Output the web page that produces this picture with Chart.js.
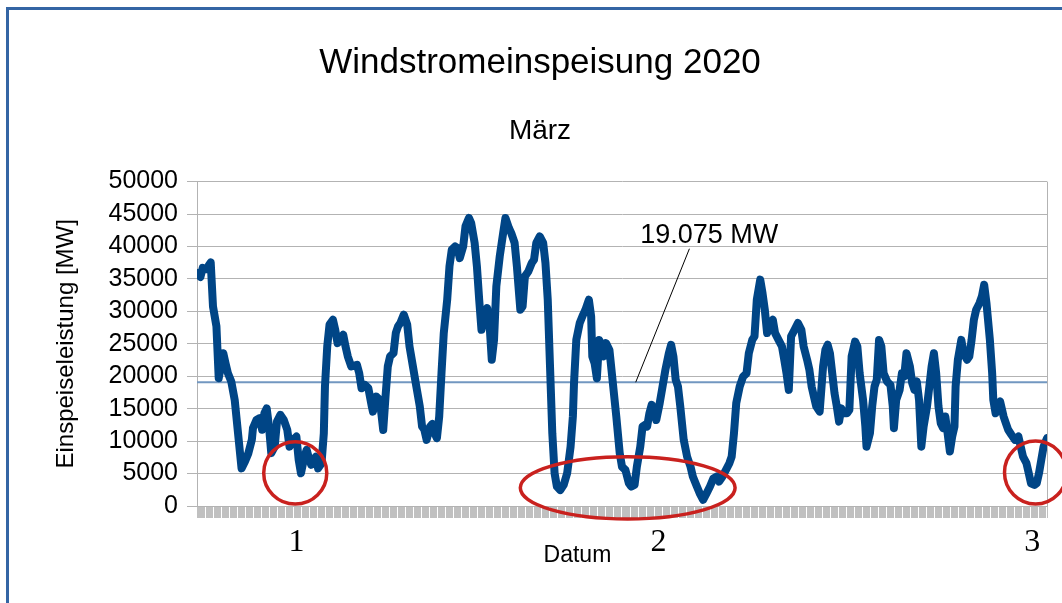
<!DOCTYPE html>
<html>
<head>
<meta charset="utf-8">
<title>Windstromeinspeisung 2020</title>
<script src="https://cdn.jsdelivr.net/npm/chart.js@4/dist/chart.umd.min.js"></script>
<style>
  html, body { margin: 0; padding: 0; background: #fff; }
  #wrap { position: relative; width: 1062px; height: 603px; overflow: hidden; }
  #frame { position: absolute; left: 6px; top: 7px; width: 1100px; height: 700px;
           border-left: 3px solid #3465a4; border-top: 3px solid #3465a4; }
  canvas { position: absolute; left: 0; top: 0; }
</style>
</head>
<body>
<div id="wrap">
  <div id="frame"></div>
  <canvas id="windChart" width="1062" height="603"></canvas>
</div>
<script>
// Stunde im März (0 = 1.3. 00:00, 744 = 1.4. 00:00)
const hours = [
  0, 3, 5, 8, 12, 14, 17, 19, 23, 25, 27, 30, 33, 39, 42, 45, 48, 49, 52, 55,
  57, 59, 61, 63, 65, 68, 70, 73, 76, 79, 81, 84, 87, 89, 91, 94, 96, 98, 100, 102,
  104, 106, 109, 111, 112, 114, 116, 119, 121, 123, 125, 128, 130, 132, 135, 140, 142, 144, 147, 150,
  153, 154, 157, 160, 163, 165, 167, 169, 172, 174, 176, 178, 181, 184, 186, 189, 192, 195, 197, 199,
  201, 204, 206, 208, 210, 212, 214, 216, 219, 221, 223, 226, 228, 230, 233, 235, 238, 240, 243, 245,
  247, 249, 251, 254, 256, 258, 260, 262, 265, 268, 270, 273, 275, 278, 280, 283, 285, 287, 290, 293,
  295, 297, 300, 303, 305, 307, 309, 311, 313, 315, 318, 321, 324, 327, 329, 330, 332, 335, 338, 340,
  343, 345, 346, 348, 350, 352, 354, 356, 358, 361, 364, 367, 370, 372, 375, 378, 380, 383, 385, 388,
  390, 392, 394, 396, 398, 400, 402, 405, 407, 410, 413, 415, 417, 419, 421, 423, 426, 429, 432, 434,
  437, 440, 443, 446, 449, 452, 455, 457, 460, 463, 466, 468, 470, 472, 475, 478, 481, 483, 486, 488,
  490, 493, 495, 497, 499, 502, 504, 506, 509, 512, 514, 516, 518, 520, 523, 526, 529, 531, 534, 536,
  538, 540, 542, 545, 548, 550, 552, 554, 556, 558, 560, 562, 564, 566, 569, 571, 573, 576, 578, 580,
  583, 585, 586, 589, 591, 593, 595, 597, 599, 601, 604, 607, 609, 610, 612, 615, 617, 619, 621, 624,
  626, 628, 630, 632, 634, 636, 639, 641, 643, 645, 647, 649, 651, 653, 655, 657, 659, 661, 663, 664,
  666, 669, 671, 674, 676, 678, 680, 682, 685, 687, 689, 691, 694, 696, 697, 699, 701, 703, 706, 708,
  710, 713, 716, 719, 721, 723, 726, 728, 730, 733, 735, 737, 739, 741, 744
];

// Einspeiseleistung in MW
const feedInMW = [
  35900, 35300, 36700, 36500, 37550, 30750, 27700, 19700, 23550, 22000, 20500, 19200, 16350, 5800, 6850, 8150, 10200, 12000, 13250, 13550,
  11750, 14300, 15050, 12250, 8150, 9150, 13000, 14050, 13250, 11750, 9150, 10200, 10700, 7100, 5050, 7600, 8650, 7350, 6350, 7100,
  7600, 5800, 6600, 11200, 18400, 24600, 27950, 28700, 27150, 25100, 25600, 26400, 24600, 23050, 21500, 21750, 20450, 18150, 18650, 18150,
  15350, 14550, 16850, 16350, 11700, 16850, 21500, 23050, 23550, 26650, 27700, 28200, 29500, 27950, 24600, 21500, 18400, 15350, 12250, 11750,
  10200, 12250, 12650, 11200, 10450, 13800, 20450, 26650, 31800, 36950, 39500, 40000, 39750, 38200, 40000, 43100, 44400, 43600, 40550, 36950,
  31800, 27150, 28700, 30500, 28200, 22550, 25600, 33850, 38500, 42100, 44400, 42850, 42100, 40550, 36950, 30250, 30750, 35400, 36150, 37450,
  37950, 40550, 41550, 40550, 37450, 31800, 21500, 11200, 5050, 3000, 2450, 3250, 5050, 9150, 13800, 18950, 25600, 28200, 29500, 30250,
  31800, 29200, 23050, 22000, 19700, 25600, 24600, 23050, 25100, 24050, 18950, 13800, 8150, 6050, 5550, 3500, 3000, 3250, 6050, 9150,
  12250, 12500, 12250, 14300, 15600, 14800, 13250, 15850, 17900, 21000, 23550, 24850, 23050, 19450, 18400, 15350, 10200, 7600, 6050, 4550,
  3250, 1950, 950, 1950, 3000, 4250, 4550, 3750, 4550, 5550, 6600, 7600, 11200, 15850, 18400, 19950, 20450, 23550, 25600, 26150,
  31800, 34900, 32800, 30250, 26650, 28200, 28700, 26650, 25600, 24600, 22550, 20450, 17900, 26150, 27150, 28200, 27150, 24600, 22550, 21000,
  18400, 16850, 15350, 14550, 21500, 24050, 24850, 23550, 20450, 17400, 15350, 13000, 15050, 14300, 14300, 14800, 23050, 25350, 24600, 20450,
  16350, 12250, 9150, 11200, 15350, 18400, 19450, 25600, 24600, 20450, 19200, 18650, 15350, 12000, 16350, 17900, 20450, 19950, 23550, 21500,
  18950, 17900, 19200, 16350, 9150, 12250, 15350, 18400, 21500, 23550, 20450, 15350, 12750, 12000, 13800, 11200, 8400, 10700, 12250, 18400,
  22550, 25600, 23550, 22550, 23050, 25600, 28700, 30250, 31300, 32300, 34100, 31300, 25600, 20450, 16350, 14300, 15600, 16100, 13800, 12750,
  11750, 10950, 10200, 10700, 9150, 7600, 6600, 5050, 3500, 3250, 3500, 5050, 7100, 9150, 10450
];

const yTicks = [0, 5000, 10000, 15000, 20000, 25000, 30000, 35000, 40000, 45000, 50000];

// Mittelwert-Linie
const meanMW = 19075;
const meanLabel = '19.075 MW';

// markierte Flauten
const lullLabels = ['1', '2', '3'];
const lullHours = [87, 404, 731];
const ringHours = [86, 377, 734];
const ringMW = [5100, 2800, 5150];
const ringHalfHours = [27.6, 94, 27.2];
const ringHalfMW = [4800, 4800, 4850];

Chart.defaults.font.family = '"Liberation Sans", Arial, sans-serif';
Chart.defaults.color = '#000';

const extras = {
  id: 'extras',
  afterDatasetsDraw(chart) {
    const {ctx, chartArea, scales: {x, y}} = chart;
    ctx.save();

    // rechter Rahmen der Zeichenfläche
    ctx.strokeStyle = '#b3b3b3';
    ctx.lineWidth = 1;
    const rx = Math.round(chartArea.right) + 0.5;
    ctx.beginPath();
    ctx.moveTo(rx, chartArea.top);
    ctx.lineTo(rx, chartArea.bottom);
    ctx.stroke();

    // Beschriftung der Mittelwert-Linie
    ctx.strokeStyle = '#000';
    ctx.lineWidth = 1;
    ctx.beginPath();
    ctx.moveTo(x.getPixelForValue(431), y.getPixelForValue(39650));
    ctx.lineTo(x.getPixelForValue(384), y.getPixelForValue(meanMW));
    ctx.stroke();
    ctx.fillStyle = '#000';
    ctx.font = '27px "Liberation Sans"';
    ctx.textAlign = 'left';
    ctx.textBaseline = 'alphabetic';
    ctx.fillText(meanLabel, x.getPixelForValue(388), y.getPixelForValue(40600));

    // rote Kreise
    ctx.strokeStyle = '#c9211e';
    ctx.lineWidth = 3.5;
    ringHours.forEach((h, i) => {
      const cx = x.getPixelForValue(h);
      const cy = y.getPixelForValue(ringMW[i]);
      const ex = Math.abs(x.getPixelForValue(h + ringHalfHours[i]) - cx);
      const ey = Math.abs(y.getPixelForValue(ringMW[i] + ringHalfMW[i]) - cy);
      ctx.beginPath();
      ctx.ellipse(cx, cy, ex, ey, 0, 0, Math.PI * 2);
      ctx.stroke();
    });

    // Nummern unter der Achse
    ctx.font = '32px "Liberation Serif"';
    ctx.textAlign = 'center';
    ctx.textBaseline = 'middle';
    lullLabels.forEach((t, i) => {
      ctx.fillText(t, x.getPixelForValue(lullHours[i]), chartArea.bottom + 37);
    });

    // Achsentitel X
    ctx.font = '23px "Liberation Sans"';
    ctx.fillText('Datum', x.getPixelForValue(333), chartArea.bottom + 50);

    ctx.restore();
  }
};

const ctx = document.getElementById('windChart');

new Chart(ctx, {
  type: 'line',
  data: {
    datasets: [
      {
        data: hours.map((h, i) => ({x: h, y: feedInMW[i]})),
        borderColor: '#004586',
        borderWidth: 8,
        borderJoinStyle: 'round',
        borderCapStyle: 'round',
        pointRadius: 0,
        tension: 0,
        fill: false
      },
      {
        data: [{x: 0, y: meanMW}, {x: 744, y: meanMW}],
        borderColor: '#7297c0',
        borderWidth: 2,
        pointRadius: 0,
        fill: false
      }
    ]
  },
  options: {
    responsive: false,
    animation: false,
    devicePixelRatio: 1,
    layout: { padding: { left: 33, right: 15, top: 0, bottom: 0 } },
    plugins: {
      legend: { display: false },
      tooltip: { enabled: false },
      title: {
        display: true,
        text: 'Windstromeinspeisung 2020',
        font: { size: 35, weight: 'normal' },
        padding: { top: 42, bottom: 10 }
      },
      subtitle: {
        display: true,
        text: 'März',
        font: { size: 28 },
        color: '#000',
        padding: { top: 20, bottom: 34 }
      }
    },
    scales: {
      x: {
        type: 'linear',
        min: 0,
        max: 744,
        afterFit: s => { s.height = 97; },
        ticks: { display: false, stepSize: 1, autoSkip: false, maxRotation: 0 },
        grid: { drawOnChartArea: false, tickLength: 12, color: '#c0c0c0', lineWidth: 1 },
        border: { color: '#b3b3b3' }
      },
      y: {
        min: 0,
        max: 50000,
        afterFit: s => { s.width = 164; },
        afterBuildTicks: s => { s.ticks = yTicks.map(v => ({value: v})); },
        ticks: {
          font: { size: 25 },
          padding: 9,
          color: '#000',
          autoSkip: false,
          callback: v => String(v)
        },
        grid: { color: '#b3b3b3', lineWidth: 1, tickLength: 10 },
        border: { color: '#b3b3b3' },
        title: {
          display: true,
          text: 'Einspeiseleistung [MW]',
          font: { size: 24 },
          color: '#000',
          padding: { top: 19, bottom: 0 }
        }
      }
    }
  },
  plugins: [extras]
});
</script>
</body>
</html>
